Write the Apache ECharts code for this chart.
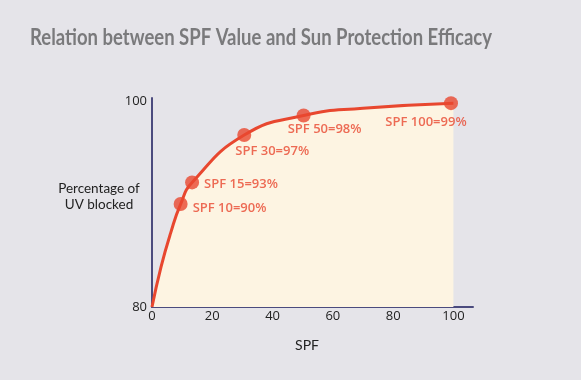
<!DOCTYPE html>
<html>
<head>
<meta charset="utf-8">
<script src="https://cdn.jsdelivr.net/npm/echarts@6/dist/echarts.min.js"></script>
<style>html,body{margin:0;padding:0;background:#e5e4e9;}#c{width:581px;height:380px;}</style>
</head>
<body>
<div id="c"></div>
<script>
// ---- data ----
const curveSpf = [0, 3, 6.2, 9.5, 13.3, 30.6, 50.3, 70, 100];
const curvePct = [80, 83.9, 87.2, 90, 92.1, 96.7, 98.6, 99.3, 99.8];
const dotSpf = [9.5, 13.3, 30.6, 50.3, 99.2];
const dotPct = [90, 92.1, 96.7, 98.6, 99.8];
const dotLabels = ["SPF 10=90%", "SPF 15=93%", "SPF 30=97%", "SPF 50=98%", "SPF 100=99%"];
const xTicks = [0, 20, 40, 60, 80, 100];
const yTicks = [80, 100];
const titleText = "Relation between SPF Value and Sun Protection Efficacy";
const xName = "SPF";
const yName = "Percentage of\nUV blocked";

// ---- styles ----
const RED = '#e8472f';
const AXIS = '#4b4b7e';
const labelStyles = [
  {position: 'right', offset: [0, 4]},
  {position: 'right', offset: [0, 2]},
  {position: 'bottom', offset: [28, -2]},
  {position: 'bottom', offset: [21, -5]},
  {position: 'bottom', offset: [-25, 1]}
];
const TITLE_FONT = "bold 23px Lato, sans-serif";
const TITLE_WIDTH = 462;
const cv = document.createElement('canvas').getContext('2d');
cv.font = TITLE_FONT;
const titleScale = TITLE_WIDTH / cv.measureText(titleText).width;

const chart = echarts.init(document.getElementById('c'));
chart.setOption({
  backgroundColor: '#e5e4e9',
  animation: false,
  grid: {left: 152, right: 108, top: 98, bottom: 73},
  xAxis: {
    type: 'value', min: 0, max: 106.5, interval: 20,
    axisLine: {show: true, lineStyle: {color: AXIS, width: 2}},
    axisTick: {show: false}, splitLine: {show: false},
    axisLabel: {showMaxLabel: false, color: '#222', fontFamily: "'Open Sans', sans-serif", fontSize: 13, margin: 3,
      formatter: v => xTicks.includes(v) ? String(v) : ''}
  },
  yAxis: {
    type: 'value', min: 80, max: 100.3, interval: 20,
    axisLine: {show: true, lineStyle: {color: AXIS, width: 2}},
    axisTick: {show: false}, splitLine: {show: false},
    axisLabel: {showMaxLabel: false, color: '#222', fontFamily: "'Open Sans', sans-serif", fontSize: 13, margin: 5,
      formatter: v => yTicks.includes(v) ? String(v) : ''}
  },
  graphic: [
    {type: 'text', x: 30, y: 38, scaleX: titleScale, style: {text: titleText, fill: '#7a7a7c', font: TITLE_FONT, align: 'left', verticalAlign: 'middle'}},
    {type: 'text', x: 99, y: 197, style: {text: yName, fill: '#222', font: "13.5px Lato, sans-serif", align: 'center', verticalAlign: 'middle', lineHeight: 16}},
    {type: 'text', x: 307, y: 345, style: {text: xName, fill: '#222', font: "14px Lato, sans-serif", align: 'center', verticalAlign: 'middle'}}
  ],
  series: [
    {
      type: 'line', smooth: 0.5, showSymbol: false, z: 2,
      data: curveSpf.map((x, i) => [x, curvePct[i]]),
      lineStyle: {color: RED, width: 3},
      areaStyle: {color: '#fdf4e2', opacity: 1, origin: 'start'}
    },
    {
      type: 'scatter', symbolSize: 14, z: 3,
      itemStyle: {color: RED},
      data: dotSpf.map((x, i) => ({
        value: [x, dotPct[i]],
        label: Object.assign({show: true, formatter: dotLabels[i], color: RED, fontFamily: "'Open Sans', sans-serif", fontWeight: 600, fontSize: 13}, labelStyles[i])
      }))
    }
  ]
});
</script>
</body>
</html>
